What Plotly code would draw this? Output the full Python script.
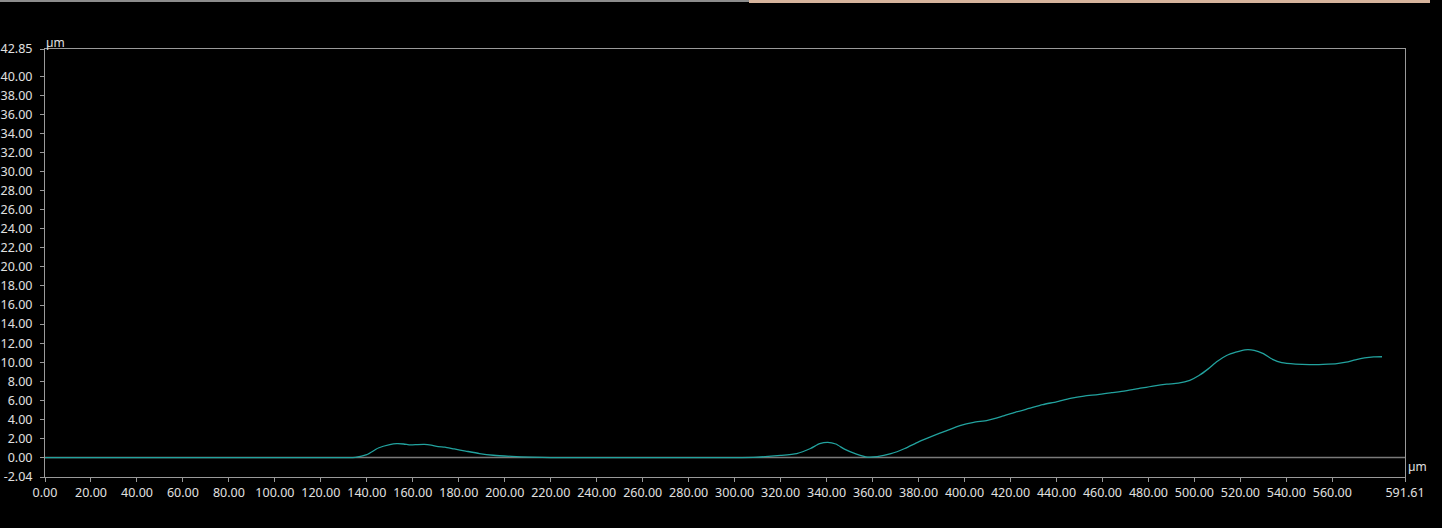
import plotly.graph_objects as go

# ---- data ----
pos_um = [0, 130, 135, 140, 145, 150, 153, 156, 159, 162, 165, 168, 171, 174, 178,
          183, 189, 195, 203, 211, 220, 300, 310, 320, 327, 333, 337, 340.5, 344, 348,
          353, 357, 362, 368, 374, 380, 386, 392, 398, 404, 410, 416, 422, 428, 434,
          440, 446, 452, 458, 464, 470, 476, 482, 488, 493, 498, 502, 506, 510, 514,
          518, 522, 526, 530, 534, 538, 544, 550, 556, 562, 566, 570, 574, 578, 581.6]
height_um = [0, 0, 0.02, 0.3, 1.0, 1.35, 1.45, 1.42, 1.32, 1.36, 1.38, 1.3, 1.15, 1.1, 0.9,
             0.68, 0.42, 0.24, 0.12, 0.04, 0, 0, 0.05, 0.22, 0.42, 0.95, 1.45, 1.6, 1.42, 0.85,
             0.35, 0.08, 0.1, 0.4, 0.95, 1.65, 2.25, 2.8, 3.35, 3.7, 3.9, 4.3, 4.75, 5.15, 5.55,
             5.85, 6.2, 6.45, 6.6, 6.8, 7.0, 7.25, 7.5, 7.7, 7.8, 8.1, 8.6, 9.3, 10.1, 10.7,
             11.05, 11.3, 11.25, 10.9, 10.3, 9.95, 9.8, 9.75, 9.78, 9.85, 10.0, 10.25, 10.45, 10.55, 10.57]

x_min, x_max = 0.0, 591.61
y_min, y_max = -2.04, 42.85
x_tick_vals = [0, 20, 40, 60, 80, 100, 120, 140, 160, 180, 200, 220, 240, 260, 280, 300,
               320, 340, 360, 380, 400, 420, 440, 460, 480, 500, 520, 540, 560, 591.61]
x_tick_text = ["%.2f" % v for v in x_tick_vals]
y_tick_vals = [-2.04, 0, 2, 4, 6, 8, 10, 12, 14, 16, 18, 20, 22, 24, 26, 28, 30, 32, 34,
               36, 38, 40, 42.85]
y_tick_text = ["%.2f" % v for v in y_tick_vals]
unit = "µm"

# ---- layout geometry ----
W, H = 1442, 528
L, R, T, B = 45, 37, 49, 51
plot_w = W - L - R
plot_h = H - T - B


def px_x(px):
    return (px - L) / plot_w


def px_y(py):
    return (H - B - py) / plot_h


FONT = "Noto Sans, Open Sans, sans-serif"
TXT = "#e0e0e0"
AXIS = "#9a9a9a"

fig = go.Figure()
fig.add_trace(go.Scatter(
    x=pos_um, y=height_um, mode="lines",
    line=dict(color="#22a29e", width=1.3, shape="spline", smoothing=0.6),
    hoverinfo="skip", showlegend=False,
))

axis_common = dict(
    showgrid=False, zeroline=False, showline=True, linecolor=AXIS, linewidth=1,
    mirror=True, ticks="outside", ticklen=4, tickcolor=AXIS, tickwidth=1,
    automargin=False,
    tickfont=dict(family=FONT, size=12.5, color=TXT),
)
fig.update_xaxes(range=[x_min, x_max], tickmode="array", tickvals=x_tick_vals,
                 ticktext=x_tick_text, **axis_common)
fig.update_yaxes(range=[y_min, y_max], tickmode="array", tickvals=y_tick_vals,
                 ticktext=y_tick_text, ticklabelstandoff=5, **axis_common)

shapes = [
    # zero reference line
    dict(type="line", xref="paper", yref="y", x0=0, x1=1, y0=0, y1=0,
         line=dict(color="#7a7a7a", width=1.5), layer="below"),
    # screenshot strip at the very top
    dict(type="rect", xref="paper", yref="paper", x0=px_x(0), x1=px_x(749),
         y0=px_y(2), y1=px_y(0), line=dict(width=0), fillcolor="#8c8c8c"),
    dict(type="rect", xref="paper", yref="paper", x0=px_x(749), x1=px_x(1430),
         y0=px_y(3), y1=px_y(0), line=dict(width=0), fillcolor="#d6b49c"),
]

annotations = [
    dict(text=unit, xref="paper", yref="paper", x=0, y=1, xanchor="left",
         yanchor="bottom", xshift=-1, yshift=-4, showarrow=False,
         font=dict(family=FONT, size=12, color=TXT)),
    dict(text=unit, xref="paper", yref="paper", x=1, y=0, xanchor="left",
         yanchor="bottom", xshift=1, yshift=0, showarrow=False,
         font=dict(family=FONT, size=12, color=TXT)),
]

fig.update_layout(
    width=W, height=H,
    margin=dict(l=L, r=R, t=T, b=B, pad=0, autoexpand=False),
    paper_bgcolor="#000000", plot_bgcolor="#000000",
    shapes=shapes, annotations=annotations,
    font=dict(family=FONT, size=12, color=TXT),
)

fig.write_html("out.html")
